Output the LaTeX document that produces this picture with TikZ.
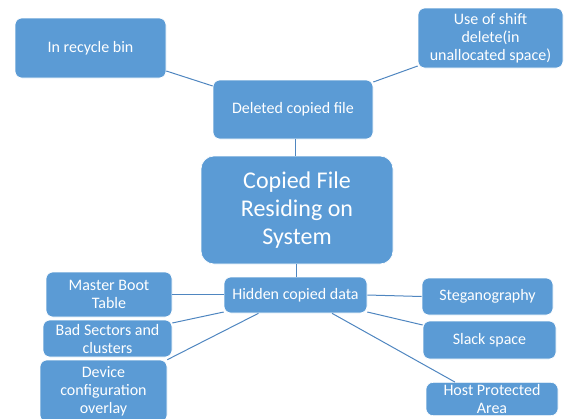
\documentclass[tikz,border=0pt]{standalone}
\usepackage{fontspec}
\setmainfont{Carlito}
\definecolor{boxblue}{HTML}{5B9BD5}
\definecolor{lineblue}{HTML}{4F86C0}
\begin{document}
\begin{tikzpicture}[x=1pt,y=-1pt,
  box/.style={draw=white, line width=0.6pt, fill=boxblue, rounded corners=7pt, text=white,
    align=center, inner sep=2pt, font=\fontsize{16}{18}\selectfont},
  conn/.style={draw=lineblue, line width=1pt}]
\useasboundingbox (0,0) rectangle (565,418);
\clip (0,0) rectangle (565,418);
\node[box, minimum width=151pt, minimum height=60pt] (recycle) at (90.5,48) {In recycle bin};
\node[box, minimum width=160pt, minimum height=59pt] (deleted) at (293,109.5) {Deleted copied file};
\node[box, minimum width=145pt, minimum height=60pt] (shift) at (490.5,38) {Use of shift\\delete(in\\unallocated space)};
\node[box, rounded corners=13pt, minimum width=192pt, minimum height=108pt,
  font=\fontsize{24}{28}\selectfont] (central) at (297,210) {Copied File\\Residing on\\System};
\node[box, minimum width=143pt, minimum height=36pt] (hidden) at (295.5,295) {Hidden copied data};
\node[box, minimum width=126pt, minimum height=45pt] (mbt) at (109,294.5) {Master Boot\\Table};
\node[box, minimum width=129pt, minimum height=37pt] (bad) at (107.5,338.5) {Bad Sectors and\\clusters};
\node[box, minimum width=127pt, minimum height=62pt] (device) at (103.5,391) {Device\\configuration\\overlay};
\node[box, minimum width=131pt, minimum height=37pt] (steg) at (487.5,296.5) {Steganography};
\node[box, minimum width=133pt, minimum height=38pt] (slack) at (489.5,340) {Slack space};
\node[box, minimum width=132pt, minimum height=32pt] (host) at (492,399) {Host Protected\\Area};
\draw[conn] ([yshift=-23pt]recycle.east) -- ([yshift=23.5pt]deleted.west);
\draw[conn] ([yshift=-28pt]shift.west) -- ([yshift=27.5pt]deleted.east);
\draw[conn] ([xshift=-2pt]central.north |- deleted.south) -- ([xshift=-2pt]central.north);
\draw[conn] ([xshift=-1pt]central.south) -- ([xshift=-1pt]central.south |- hidden.north);
\draw[conn] (mbt.east) -- (mbt.east -| hidden.west);
\draw[conn] ([yshift=15.5pt]bad.east) -- ([yshift=-17pt]hidden.west);
\draw[conn] (device.north east) -- ([xshift=-37pt]hidden.south);
\draw[conn] (hidden.east) -- (steg.west);
\draw[conn] ([yshift=-17pt]hidden.east) -- ([yshift=15pt]slack.west);
\draw[conn] ([xshift=36.5pt]hidden.south) -- ([xshift=-37pt]host.north);
\end{tikzpicture}
\end{document}
